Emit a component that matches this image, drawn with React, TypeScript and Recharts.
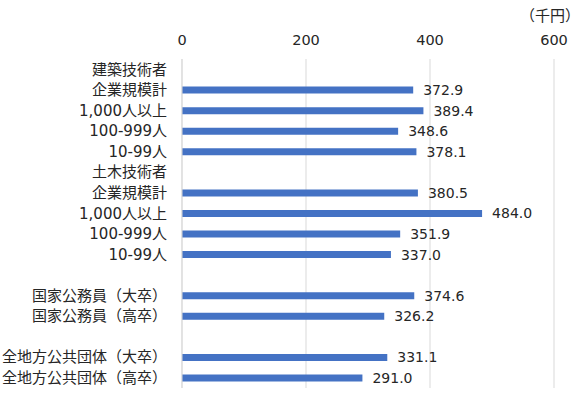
import { Bar, BarChart, CartesianGrid, LabelList, XAxis, YAxis } from "recharts";

// rows top to bottom; header rows and spacer rows carry no value
const categories = [
  "建築技術者",
  "企業規模計",
  "1,000人以上",
  "100-999人",
  "10-99人",
  "土木技術者",
  "企業規模計",
  "1,000人以上",
  "100-999人",
  "10-99人",
  "",
  "国家公務員（大卒）",
  "国家公務員（高卒）",
  "",
  "全地方公共団体（大卒）",
  "全地方公共団体（高卒）",
];
const salaries: (number | null)[] = [
  null, 372.9, 389.4, 348.6, 378.1,
  null, 380.5, 484.0, 351.9, 337.0,
  null, 374.6, 326.2,
  null, 331.1, 291.0,
];
const xTicks = [0, 200, 400, 600];

const data = categories.map((name, i) => ({ id: i, name, value: salaries[i] }));

// wide latin digits (Meiryo-like) with CJK fallback
const font = "'DejaVu Sans', 'Noto Sans CJK JP', sans-serif";
const textColor = "#262626";

export default function App() {
  return (
    <div style={{ position: "absolute", left: 0, top: 0, background: "#fff" }}>
      <BarChart
        width={579}
        height={393}
        data={data}
        layout="vertical"
        margin={{ top: 0, right: 25, bottom: 5, left: 0 }}
        barSize={7}
      >
        <CartesianGrid horizontal={false} stroke="#d9d9d9" />
        <XAxis
          type="number"
          orientation="top"
          domain={[0, 600]}
          ticks={xTicks}
          height={59}
          axisLine={false}
          tickLine={false}
          tickSize={0}
          tickMargin={14}
          tick={{ fill: textColor, fontSize: 14.5, fontFamily: font }}
        />
        <YAxis
          type="category"
          dataKey="id"
          width={182}
          axisLine={{ stroke: "#d9d9d9" }}
          tickLine={false}
          tickSize={0}
          tickMargin={15}
          interval={0}
          tickFormatter={(v) => categories[v] ?? ""}
          tick={{ fill: textColor, fontSize: 15, fontFamily: font }}
        />
        <Bar dataKey="value" fill="#4472c4" isAnimationActive={false}>
          <LabelList
            dataKey="value"
            position="right"
            offset={10}
            formatter={(v: any) => (v == null ? "" : Number(v).toFixed(1))}
            style={{ fill: textColor, fontSize: 14, fontFamily: font }}
          />
        </Bar>
        <text
          x={580}
          y={16}
          textAnchor="end"
          dominantBaseline="central"
          fill={textColor}
          fontSize={15}
          fontFamily={font}
        >
          （千円）
        </text>
      </BarChart>
    </div>
  );
}
